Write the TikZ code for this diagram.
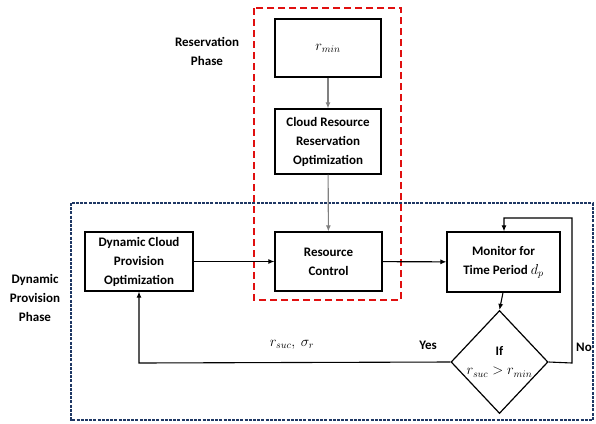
\documentclass[tikz,border=0pt]{standalone}
\usepackage{fontspec}
\setmainfont{Carlito}
\usetikzlibrary{arrows.meta,shapes.geometric}
\definecolor{phaseblue}{HTML}{1F3864}
\definecolor{phasered}{HTML}{E01010}
\begin{document}
\begin{tikzpicture}[x=1pt,y=-1pt,
  blk/.style={draw=black,line width=1.2pt,fill=white,align=center,inner sep=0pt,
    font=\fontsize{13}{19}\selectfont\bfseries},
  lbl/.style={align=center,font=\fontsize{13}{19}\selectfont\bfseries},
  mathlbl/.style={align=center,font=\fontsize{14}{19}\selectfont},
  link/.style={line width=1.1pt,-{Latex[length=6pt,width=5pt]}},
  glink/.style={line width=1.1pt,draw=gray,-{Latex[length=6pt,width=5pt]}},
  redbox/.style={draw=phasered,line width=2.2pt,dash pattern=on 7pt off 4pt},
  bluebox/.style={draw=phaseblue,line width=2.6pt,dash pattern=on 3pt off 1.2pt}]
\useasboundingbox (0,0) rectangle (596,423);
% phase frames
\draw[bluebox] (71,203) rectangle (593,420);
\draw[redbox] (254,8) rectangle (401,300);
% reservation phase
\node[blk,minimum width=106pt,minimum height=58pt,font=\fontsize{14}{19}\selectfont] (rmin) at (328,48) {$r_{min}$};
\node[blk,minimum width=106pt,minimum height=65pt] (crro) at (328,141.5)
  {Cloud Resource\\Reservation\\Optimization};
% dynamic provision phase
\node[blk,minimum width=108pt,minimum height=59pt] (dcpo) at (139,261.5)
  {Dynamic Cloud\\Provision\\Optimization};
\node[blk,minimum width=107pt,minimum height=59pt] (rc) at (328.5,261.5)
  {Resource\\Control};
\node[blk,minimum width=113pt,minimum height=60pt] (mon) at (503.5,262)
  {Monitor for\\Time Period {\fontsize{14}{19}\selectfont$d_p$}};
\node[diamond,draw=black,line width=1.2pt,fill=white,minimum width=97pt,minimum height=103pt,
  inner sep=0pt,align=center,font=\fontsize{13}{19}\selectfont\bfseries] (dec) at (499.5,362)
  {If\\{\fontsize{14}{19}\selectfont$r_{suc}>r_{min}$}};
% phase captions
\node[lbl] (resphase) at (207,51) {Reservation\\Phase};
\node[lbl] (dynphase) at (35,298) {Dynamic\\Provision\\Phase};
% connectors
\draw[glink] (rmin) -- (crro);
\draw[glink] (crro) -- (rc);
\draw[link] (dcpo) -- (rc);
\draw[link] (rc) -- (mon);
\draw[link] (mon.south -| 503,0) -- (dec.north);
\coordinate (yesc) at (139,363);
\draw[link] (dec.west) -- (yesc) -- (dcpo.south);
\coordinate (noa) at (572,363);
\coordinate (nob) at (572,218);
\coordinate (noc) at (504,218);
\draw[link] (dec.east) -- (noa) -- (nob) -- (noc) -- (mon.north -| noc);
% edge labels
\node[lbl] (yes) at (428,345) {Yes};
\node[lbl] (no) at (584,347) {No};
\node[mathlbl] (rs) at (292,345) {$r_{suc},\ \sigma_r$};
\end{tikzpicture}
\end{document}
